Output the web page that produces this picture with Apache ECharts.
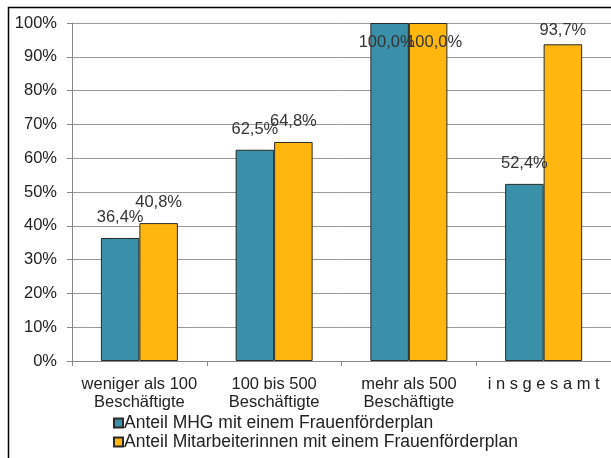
<!DOCTYPE html>
<html><head><meta charset="utf-8">
<script src="https://cdn.jsdelivr.net/npm/echarts@6/dist/echarts.min.js"></script>
<style>html,body{margin:0;padding:0;background:#fff}#c{width:611px;height:458px}</style>
</head><body><div id="c"></div>
<script>
const categories = ['weniger als 100\nBeschäftigte', '100 bis 500\nBeschäftigte', 'mehr als 500\nBeschäftigte', 'i n s g e s a m t'];
const seriesNames = ['Anteil MHG mit einem Frauenförderplan', 'Anteil Mitarbeiterinnen mit einem Frauenförderplan'];
const mhg = [36.4, 62.5, 100.0, 52.4];
const mitarbeiterinnen = [40.8, 64.8, 100.0, 93.7];
const yTicks = [0, 10, 20, 30, 40, 50, 60, 70, 80, 90, 100];

const font = 'Liberation Sans, Arial, sans-serif';
function fmt(v){ return v.toFixed(1).replace('.', ',') + '%'; }
function mk(vals, dx){
  return vals.map(v => {
    if (v >= 100) return {value: v, label: {position: 'insideTop', distance: 11, offset: [dx, 0]}};
    if (v > 90) return {value: v, label: {distance: 5}};
    return v;
  });
}
const chart = echarts.init(document.getElementById('c'));
chart.setOption({
  animation: false,
  grid: {left: 72, top: 23, width: 544, height: 338, containLabel: false},
  graphic: [{type: 'rect', shape: {x: 8.5, y: 7.5, width: 800, height: 800}, style: {fill: 'none', stroke: '#000', lineWidth: 1.5}, z: 100}],
  legend: {
    orient: 'vertical', left: 108, top: 409, itemGap: 1, itemWidth: 9, itemHeight: 9,
    icon: 'rect',
    textStyle: {fontFamily: font, fontSize: 17.5, color: '#222', padding: [0,0,0,-4]},
    data: seriesNames
  },
  xAxis: {
    type: 'category', data: categories,
    axisLine: {lineStyle: {color: '#888'}},
    axisTick: {show: true, length: 5, lineStyle: {color: '#888'}},
    axisLabel: {fontFamily: font, fontSize: 16.5, color: '#222', lineHeight: 18, margin: 14, interval: 0}
  },
  yAxis: {
    type: 'value', min: 0, max: 100, interval: 10,
    axisLine: {show: true, lineStyle: {color: '#888'}},
    axisTick: {show: true, length: 5, lineStyle: {color: '#888'}},
    splitLine: {lineStyle: {color: '#999', width: 1}},
    axisLabel: {fontFamily: font, fontSize: 16.5, color: '#222', margin: 15,
      formatter: v => yTicks.includes(v) ? v + '%' : ''}
  },
  series: [
    {name: seriesNames[0], type: 'bar', data: mk(mhg, -3), barWidth: 38.5, barGap: '0%',
     itemStyle: {color: '#3A90A8', borderColor: '#2a2a2a', borderWidth: 1},
     label: {show: true, position: 'top', distance: 12, fontFamily: font, fontSize: 16.5, color: '#333', formatter: p => fmt(p.value)}},
    {name: seriesNames[1], type: 'bar', data: mk(mitarbeiterinnen, 6), barWidth: 38.5,
     itemStyle: {color: '#FFB710', borderColor: '#2a2a2a', borderWidth: 1},
     label: {show: true, position: 'top', distance: 12, fontFamily: font, fontSize: 16.5, color: '#333', formatter: p => fmt(p.value)}}
  ]
});
</script></body></html>
